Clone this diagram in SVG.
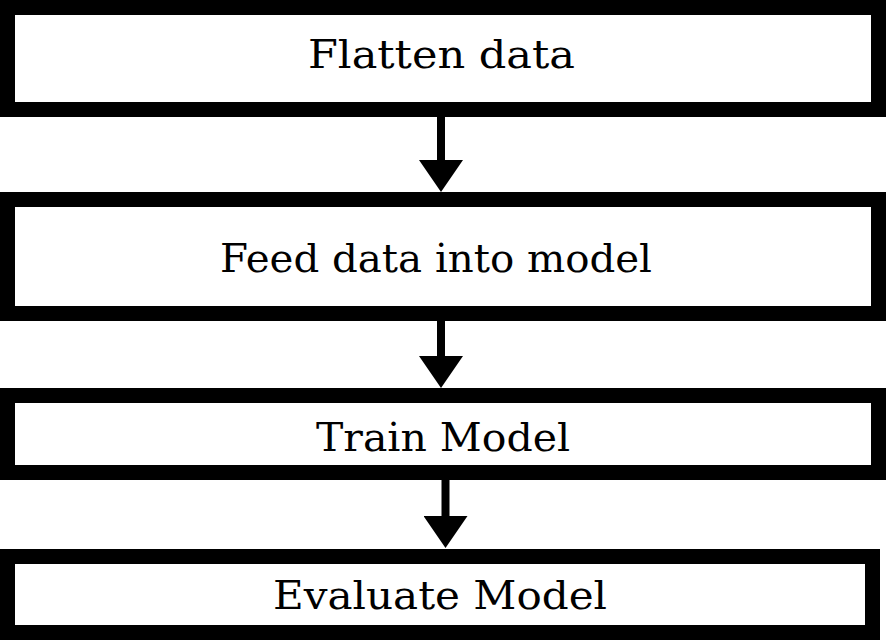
<svg xmlns="http://www.w3.org/2000/svg" width="886" height="641" viewBox="0 0 886 641">
  <style>
    .box { fill: #ffffff; stroke: #000000; stroke-width: 15; }
    .lbl { font-family: "DejaVu Serif", "Liberation Serif", serif; font-size: 40px; fill: #000000; text-anchor: middle; }
    .conn { stroke: #000000; stroke-width: 8; fill: none; marker-end: url(#head); }
  </style>
  <defs>
    <marker id="head" markerUnits="userSpaceOnUse" markerWidth="34" markerHeight="44" refX="22" refY="22" orient="auto" viewBox="0 0 34 44">
      <path d="M0,0 L32,22 L0,44 Z" fill="#000000"/>
    </marker>
  </defs>
  <rect x="0" y="0" width="886" height="641" fill="#ffffff"/>
  <g id="node-flatten">
    <rect class="box" x="7.5" y="7.5" width="871" height="102"/>
    <text class="lbl" x="441.5" y="68" textLength="267" lengthAdjust="spacingAndGlyphs">Flatten data</text>
  </g>
  <g id="node-feed">
    <rect class="box" x="7.5" y="199.5" width="871" height="114"/>
    <text class="lbl" x="436" y="272" textLength="432" lengthAdjust="spacingAndGlyphs">Feed data into model</text>
  </g>
  <g id="node-train">
    <rect class="box" x="7.5" y="395.5" width="871" height="77"/>
    <text class="lbl" x="443" y="451" textLength="254" lengthAdjust="spacingAndGlyphs">Train Model</text>
  </g>
  <g id="node-evaluate">
    <rect class="box" x="7.5" y="556.5" width="865" height="76"/>
    <text class="lbl" x="440" y="609" textLength="334" lengthAdjust="spacingAndGlyphs">Evaluate Model</text>
  </g>
  <g id="connectors">
    <line class="conn" x1="441" y1="117" x2="441" y2="182"/>
    <line class="conn" x1="441" y1="321" x2="441" y2="378"/>
    <line class="conn" x1="445.5" y1="480" x2="445.5" y2="538"/>
  </g>
</svg>
